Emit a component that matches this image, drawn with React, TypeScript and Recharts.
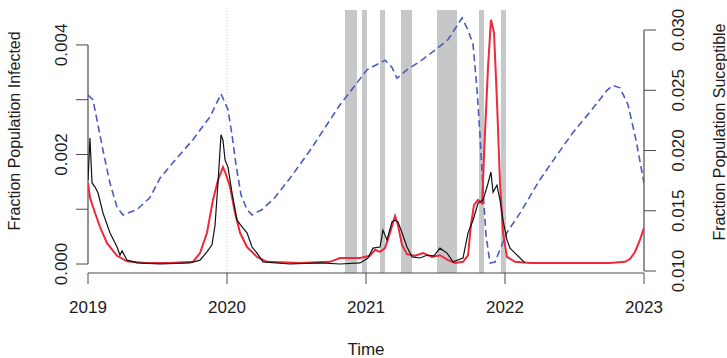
import {
  ComposedChart,
  Line,
  ReferenceArea,
  ReferenceLine,
  XAxis,
  YAxis,
} from "recharts";

const FONT = '"Liberation Sans", Arial, sans-serif';
const INK = "#1c1c1c";
const AXIS = "#4a4a4a";

const yearTicks = [2019, 2020, 2021, 2022, 2023];
const infectedTicks = [0, 0.001, 0.002, 0.003, 0.004];
const susceptibleTicks = [0.01, 0.015, 0.02, 0.025, 0.03];
const yearLines = [2020, 2021, 2022];

// shaded intervention periods (start, end in decimal years)
const bandStart = [2020.849, 2020.971, 2021.101, 2021.252, 2021.511, 2021.813, 2021.971];
const bandEnd = [2020.935, 2021.007, 2021.137, 2021.331, 2021.655, 2021.849, 2022.007];

// susceptible fraction (right axis)
const suscTime = [
  2019.0, 2019.036, 2019.072, 2019.108, 2019.158, 2019.209, 2019.252, 2019.353, 2019.446,
  2019.518, 2019.626, 2019.755, 2019.878, 2019.957, 2020.007, 2020.036, 2020.065, 2020.101,
  2020.144, 2020.18, 2020.252, 2020.345, 2020.453, 2020.597, 2020.705, 2020.813, 2020.921,
  2021.007, 2021.137, 2021.187, 2021.223, 2021.295, 2021.388, 2021.482, 2021.59, 2021.691,
  2021.734, 2021.77, 2021.799, 2021.82, 2021.842, 2021.863, 2021.892, 2021.928, 2022.014,
  2022.108, 2022.252, 2022.36, 2022.489, 2022.612, 2022.734, 2022.777, 2022.827, 2022.885,
  2022.942, 2023.0,
];
const suscValue = [
  0.0246, 0.0242, 0.0221, 0.02, 0.0173, 0.0153, 0.01465, 0.0151, 0.0161, 0.0177, 0.0192,
  0.0209, 0.0228, 0.0247, 0.0234, 0.0213, 0.0188, 0.0163, 0.0151, 0.01465, 0.0151, 0.0161,
  0.0177, 0.02, 0.0219, 0.0238, 0.0254, 0.0267, 0.0275, 0.0269, 0.026, 0.0267, 0.0274, 0.0282,
  0.0292, 0.031, 0.03, 0.0288, 0.025, 0.0213, 0.0167, 0.013, 0.01066, 0.01075, 0.0132, 0.0148,
  0.0176, 0.0194, 0.0215, 0.0232, 0.025, 0.0254, 0.0252, 0.0238, 0.0209, 0.0173,
];

// model infected fraction (left axis)
const modelTime = [
  2019.0, 2019.014, 2019.036, 2019.086, 2019.137, 2019.209, 2019.281, 2019.41, 2019.59,
  2019.755, 2019.806, 2019.856, 2019.899, 2019.935, 2019.971, 2019.986, 2020.022, 2020.058,
  2020.094, 2020.144, 2020.216, 2020.288, 2020.525, 2020.741, 2020.813, 2020.957, 2021.029,
  2021.065, 2021.101, 2021.137, 2021.173, 2021.209, 2021.23, 2021.259, 2021.295, 2021.353,
  2021.41, 2021.475, 2021.532, 2021.59, 2021.64, 2021.698, 2021.734, 2021.755, 2021.777,
  2021.806, 2021.835, 2021.856, 2021.878, 2021.899, 2021.921, 2021.942, 2021.964, 2021.986,
  2022.014, 2022.072, 2022.18, 2022.54, 2022.755, 2022.863, 2022.899, 2022.935, 2022.971,
  2023.0,
];
const modelValue = [
  0.00148, 0.00122, 0.00104, 0.00068, 0.00038, 0.00015, 0.00005, 0.00002, 0.00002, 0.00004,
  0.0002, 0.00057, 0.00117, 0.00153, 0.00177, 0.00168, 0.00141, 0.00093, 0.00057, 0.00031,
  0.00013, 0.00004, 0.00002, 0.00004, 0.00011, 0.00011, 0.00015, 0.00026, 0.00022, 0.00029,
  0.00057, 0.00088, 0.00071, 0.00035, 0.00018, 0.00015, 0.0002, 0.00013, 0.00016, 0.00007,
  0.00002, 0.00004, 0.00016, 0.00071, 0.00108, 0.00117, 0.00111, 0.00239, 0.0036, 0.00446,
  0.00422, 0.00299, 0.00148, 0.00057, 0.00013, 0.00004, 0.00002, 0.00002, 0.00002, 0.00004,
  0.00009, 0.00022, 0.00044, 0.00066,
];

// observed infected fraction (left axis)
const obsTime = [
  2019.0, 2019.014, 2019.029, 2019.05, 2019.072, 2019.108, 2019.158, 2019.209, 2019.23,
  2019.245, 2019.281, 2019.353, 2019.518, 2019.734, 2019.806, 2019.856, 2019.892, 2019.914,
  2019.935, 2019.957, 2019.971, 2019.986, 2020.007, 2020.036, 2020.072, 2020.108, 2020.144,
  2020.18, 2020.216, 2020.259, 2020.453, 2020.669, 2020.813, 2020.957, 2021.014, 2021.05,
  2021.101, 2021.122, 2021.151, 2021.187, 2021.209, 2021.23, 2021.259, 2021.295, 2021.331,
  2021.388, 2021.439, 2021.489, 2021.532, 2021.583, 2021.626, 2021.698, 2021.734, 2021.77,
  2021.806, 2021.842, 2021.871, 2021.899, 2021.914, 2021.942, 2021.964, 2021.986, 2022.014,
  2022.036, 2022.072, 2022.108, 2022.144,
];
const obsValue = [
  0.00153, 0.0023, 0.00148, 0.00141, 0.0013, 0.00093, 0.00057, 0.00031, 0.00016, 0.00024,
  0.00007, 0.00002, 0.0, 0.00002, 0.00007, 0.00022, 0.00035, 0.00071, 0.00148, 0.00236,
  0.00226, 0.0019, 0.00177, 0.0013, 0.0008, 0.00068, 0.00057, 0.00031, 0.0002, 0.00004, 0.0,
  0.00002, 0.0, 0.00002, 0.00011, 0.00029, 0.00031, 0.00062, 0.00044, 0.00077, 0.0008,
  0.00077, 0.00057, 0.00031, 0.00013, 0.00011, 0.00016, 0.00015, 0.00029, 0.0002, 0.00004,
  0.00011, 0.00057, 0.0008, 0.00111, 0.00117, 0.00141, 0.00168, 0.00131, 0.00144, 0.00117,
  0.0008, 0.00044, 0.00029, 0.0002, 0.00011, 0.00002,
];

const zip = (ts: number[], vs: number[]) => ts.map((t, i) => ({ t, v: vs[i] }));
const suscData = zip(suscTime, suscValue);
const modelData = zip(modelTime, modelValue);
const obsData = zip(obsTime, obsValue);

function YearTick({ x, y, payload }: any) {
  return (
    <text x={x} y={y + 27} textAnchor="middle" fontSize={17} fontFamily={FONT} fill={INK}>
      {payload.value}
    </text>
  );
}

function InfectedTick({ x, y, payload, index }: any) {
  if (index % 2 !== 0) return <g />;
  const bx = x - 7;
  return (
    <text
      transform={`translate(${bx},${y}) rotate(-90)`}
      textAnchor="middle"
      fontSize={17}
      fontFamily={FONT}
      fill={INK}
    >
      {payload.value.toFixed(3)}
    </text>
  );
}

function SusceptibleTick({ x, y, payload }: any) {
  const bx = x + 26;
  return (
    <text
      transform={`translate(${bx},${y}) rotate(-90)`}
      textAnchor="middle"
      fontSize={17}
      fontFamily={FONT}
      fill={INK}
    >
      {payload.value.toFixed(3)}
    </text>
  );
}

export default function App() {
  return (
    <div style={{ position: "absolute", left: 0, top: 0, width: 727, height: 358, background: "#fff" }}>
      <ComposedChart
        width={727}
        height={358}
        margin={{ top: 10, right: 33, bottom: 45, left: 28 }}
      >
        <XAxis
          type="number"
          dataKey="t"
          domain={[2019, 2023]}
          ticks={yearTicks}
          allowDataOverflow
          height={40}
          tickSize={11}
          stroke={AXIS}
          tick={<YearTick />}
        />
        <YAxis
          yAxisId="left"
          type="number"
          domain={[-0.000164, 0.004638]}
          ticks={infectedTicks}
          allowDataOverflow
          width={60}
          tickSize={12}
          axisLine={false}
          tickLine={{ stroke: AXIS }}
          tick={<InfectedTick />}
        />
        <YAxis
          yAxisId="right"
          orientation="right"
          type="number"
          domain={[0.009834, 0.031663]}
          ticks={susceptibleTicks}
          allowDataOverflow
          width={50}
          tickSize={12}
          axisLine={false}
          tickLine={{ stroke: AXIS }}
          tick={<SusceptibleTick />}
        />
        {bandStart.map((s, i) => (
          <ReferenceArea
            key={i}
            yAxisId="left"
            x1={s}
            x2={bandEnd[i]}
            fill="#c6c7c9"
            fillOpacity={1}
            stroke="none"
          />
        ))}
        {yearLines.map((yr) => (
          <ReferenceLine
            key={yr}
            yAxisId="left"
            x={yr}
            stroke="#cfcfcf"
            strokeDasharray="1 2"
          />
        ))}
        <ReferenceLine
          yAxisId="left"
          segment={[
            { x: 2019, y: 0 },
            { x: 2019, y: 0.004 },
          ]}
          stroke={AXIS}
          strokeWidth={1.2}
        />
        <ReferenceLine
          yAxisId="right"
          segment={[
            { x: 2023, y: 0.01 },
            { x: 2023, y: 0.03 },
          ]}
          stroke={AXIS}
          strokeWidth={1.2}
        />
        <Line
          yAxisId="right"
          data={suscData}
          dataKey="v"
          type="linear"
          stroke="#4a5cbf"
          strokeWidth={1.6}
          strokeDasharray="7 4"
          dot={false}
          isAnimationActive={false}
        />
        <Line
          yAxisId="left"
          data={modelData}
          dataKey="v"
          type="linear"
          stroke="#f0283c"
          strokeWidth={2}
          dot={false}
          isAnimationActive={false}
        />
        <Line
          yAxisId="left"
          data={obsData}
          dataKey="v"
          type="linear"
          stroke="#111111"
          strokeWidth={1.2}
          dot={false}
          isAnimationActive={false}
        />
      </ComposedChart>
      <svg
        width={727}
        height={358}
        style={{ position: "absolute", left: 0, top: 0, pointerEvents: "none" }}
      >
        <text
          transform="translate(20,131) rotate(-90)"
          textAnchor="middle"
          fontSize={16}
          fontFamily={FONT}
          fill={INK}
        >
          Fraction Population Infected
        </text>
        <text
          transform="translate(725,132) rotate(-90)"
          textAnchor="middle"
          fontSize={16}
          fontFamily={FONT}
          fill={INK}
        >
          Fraction Population Suceptible
        </text>
        <text x={366} y={355} textAnchor="middle" fontSize={17} fontFamily={FONT} fill={INK}>
          Time
        </text>
      </svg>
    </div>
  );
}
